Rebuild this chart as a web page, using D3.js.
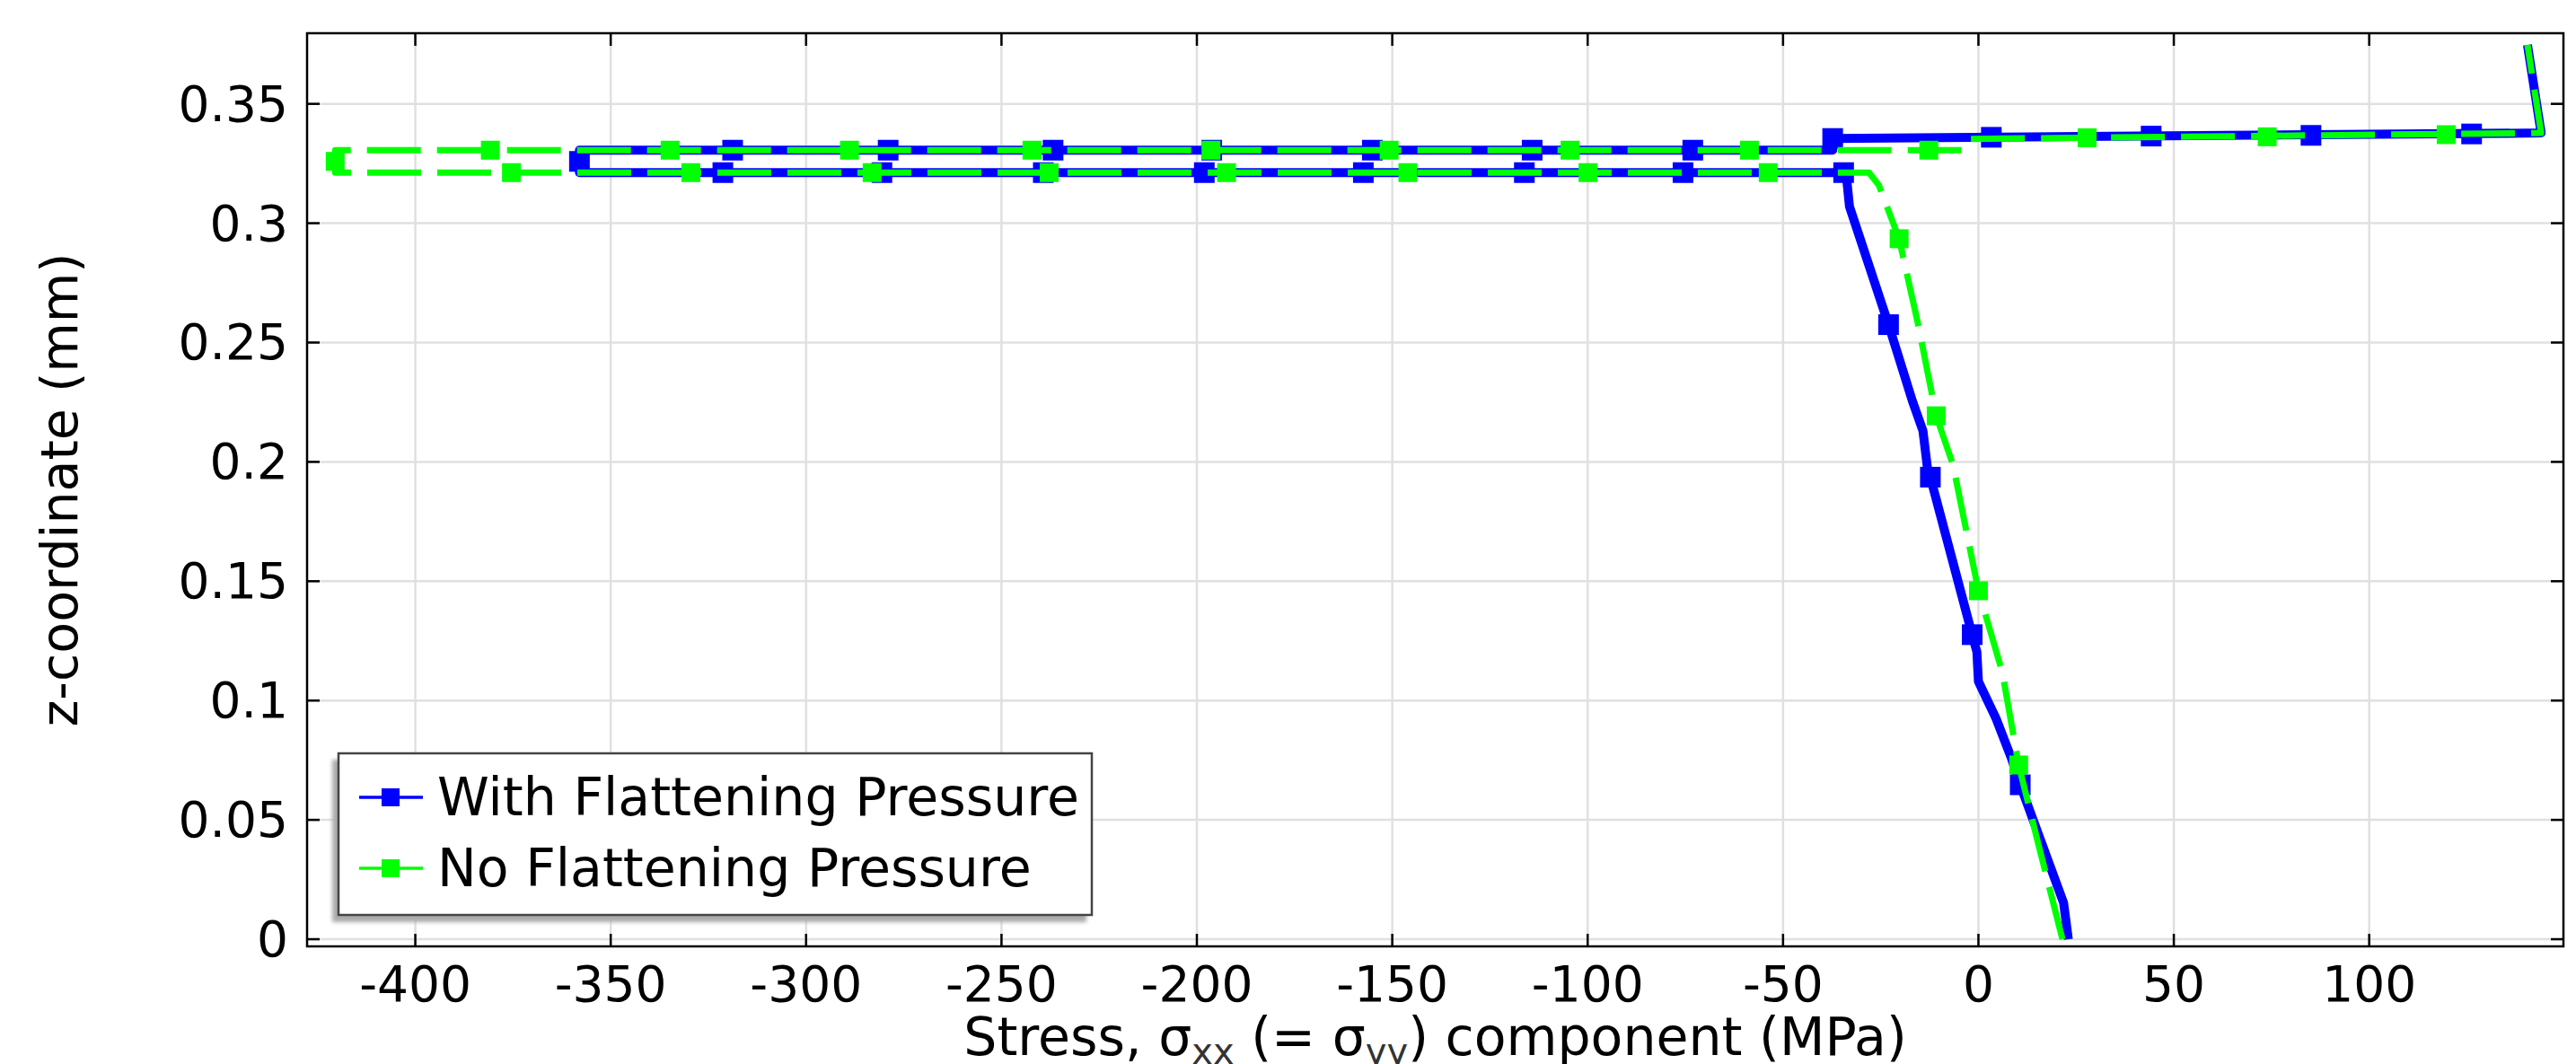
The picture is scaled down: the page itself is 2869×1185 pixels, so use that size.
<!DOCTYPE html>
<html>
<head>
<meta charset="utf-8">
<script src="https://cdn.jsdelivr.net/npm/d3@7"></script>
<style>
  body { margin: 0; background: #fff; }
  text { font-family: "DejaVu Sans", sans-serif; fill: #000; }
</style>
</head>
<body>
<svg id="chart" width="2869" height="1185"></svg>
<script>

// tick values
var xTicks = [-400, -350, -300, -250, -200, -150, -100, -50, 0, 50, 100],
    yTicks = [0, 0.05, 0.1, 0.15, 0.2, 0.25, 0.3, 0.35],
    yTickLabels = ["0", "0.05", "0.1", "0.15", "0.2", "0.25", "0.3", "0.35"];

var seriesNames = ["With Flattening Pressure", "No Flattening Pressure"];

// With flattening pressure: stress (MPa) vs z (mm)
var withStress = [23, 21.8, 10.7, 8.4, 4.5, 0, -0.4, -1.6, -12.3, -13, -14.2, -16.9, -23, -33, -33.7, -34.5,
                  -358, -358, -37.3, -37.3, 144, 140.5],
    withZ = [0, 0.0152, 0.0647, 0.076, 0.0925, 0.108, 0.1204, 0.1276, 0.1936, 0.1968, 0.213, 0.2255, 0.2575, 0.307, 0.3183, 0.3212,
             0.3212, 0.3306, 0.3306, 0.3355, 0.3378, 0.3747];

// markers on the blue curve
var withMarkStress = [10.7, -1.6, -12.3, -23, -34.5, -75.6, -116.2, -157.4, -198.1, -239.3, -280.6, -321.3,
                      -358, -318.8, -279, -236.8, -196.2, -155.1, -114.2, -73.1, -37.3, 3.3, 44.2, 85.1, 126.2],
    withMarkZ = [0.0647, 0.1276, 0.1936, 0.2575, 0.3212, 0.3212, 0.3212, 0.3212, 0.3212, 0.3212, 0.3212, 0.3212,
                 0.3259, 0.3306, 0.3306, 0.3306, 0.3306, 0.3306, 0.3306, 0.3306, 0.3355, 0.336, 0.3365, 0.3368, 0.3374];

// No flattening pressure
var noStress = [21.5, 15.3, 10.3, 6.1, 0, -6.5, -10.8, -15.3, -20.3, -25.5, -28,
                -420.5, -420.5, -4, -2.5, 144, 140.5],
    noZ = [0, 0.040, 0.073, 0.112, 0.146, 0.1987, 0.2193, 0.2566, 0.2935, 0.316, 0.3212,
           0.3212, 0.3306, 0.3306, 0.3353, 0.3378, 0.3747];

var noMarkStress = [10.3, 0, -10.8, -20.3, -53.8, -99.9, -146, -192.4, -237.8, -283.1, -329.5, -375.4,
                    -420.5, -380.8, -334.8, -288.9, -242.2, -196.4, -150.8, -104.5, -58.6, -12.7, 27.8, 73.9, 119.7],
    noMarkZ = [0.073, 0.146, 0.2193, 0.2935, 0.3212, 0.3212, 0.3212, 0.3212, 0.3212, 0.3212, 0.3212, 0.3212,
               0.3259, 0.3306, 0.3306, 0.3306, 0.3306, 0.3306, 0.3306, 0.3306, 0.3306, 0.3306, 0.3358, 0.3362, 0.3371];

var svg = d3.select("#chart"),
    pLeft = 342, pRight = 2855, pTop = 37, pBottom = 1054;

svg.append("rect").attr("width", 2869).attr("height", 1185).attr("fill", "#fff");

var x = d3.scaleLinear().domain([-427.7, 149.7]).range([pLeft, pRight]),
    y = d3.scaleLinear().domain([-0.003, 0.3796]).range([pBottom, pTop]);

function zip(a, b) { return a.map(function(v, i) { return [v, b[i]]; }); }

var line = d3.line().x(function(d) { return x(d[0]); }).y(function(d) { return y(d[1]); });

// grid
var grid = svg.append("g").attr("stroke", "#e0e0e0").attr("stroke-width", 2.5);
grid.selectAll(".gx").data(xTicks).enter().append("line")
    .attr("x1", function(d) { return x(d); }).attr("x2", function(d) { return x(d); })
    .attr("y1", pTop).attr("y2", pBottom);
grid.selectAll(".gy").data(yTicks).enter().append("line")
    .attr("y1", function(d) { return y(d); }).attr("y2", function(d) { return y(d); })
    .attr("x1", pLeft).attr("x2", pRight);

// curves
var plot = svg.append("g");
plot.append("path").datum(zip(withStress, withZ))
    .attr("d", line).attr("fill", "none").attr("stroke", "#0000ff")
    .attr("stroke-width", 10).attr("stroke-linejoin", "round");
plot.selectAll(".mw").data(zip(withMarkStress, withMarkZ)).enter().append("rect")
    .attr("x", function(d) { return x(d[0]) - 11.5; }).attr("y", function(d) { return y(d[1]) - 11.5; })
    .attr("width", 23).attr("height", 23).attr("fill", "#0000ff");

plot.append("path").datum(zip(noStress, noZ))
    .attr("d", line).attr("fill", "none").attr("stroke", "#00ff00")
    .attr("stroke-width", 7).attr("stroke-dasharray", "60,18").attr("stroke-linejoin", "round");
plot.selectAll(".mn").data(zip(noMarkStress, noMarkZ)).enter().append("rect")
    .attr("x", function(d) { return x(d[0]) - 10.5; }).attr("y", function(d) { return y(d[1]) - 10.5; })
    .attr("width", 21).attr("height", 21).attr("fill", "#00ff00");

// frame + inward ticks on all sides
var ax = svg.append("g").attr("stroke", "#000").attr("stroke-width", 2.5);
ax.append("rect").attr("x", pLeft).attr("y", pTop).attr("width", pRight - pLeft).attr("height", pBottom - pTop)
    .attr("fill", "none");
xTicks.forEach(function(t) {
  ax.append("line").attr("x1", x(t)).attr("x2", x(t)).attr("y1", pBottom).attr("y2", pBottom - 14);
  ax.append("line").attr("x1", x(t)).attr("x2", x(t)).attr("y1", pTop).attr("y2", pTop + 14);
});
yTicks.forEach(function(t) {
  ax.append("line").attr("y1", y(t)).attr("y2", y(t)).attr("x1", pLeft).attr("x2", pLeft + 14);
  ax.append("line").attr("y1", y(t)).attr("y2", y(t)).attr("x1", pRight).attr("x2", pRight - 14);
});

// tick labels
svg.selectAll(".xl").data(xTicks).enter().append("text")
    .attr("x", function(d) { return x(d); }).attr("y", 1115)
    .attr("text-anchor", "middle").style("font-size", "55px")
    .text(function(d) { return d; });
svg.selectAll(".yl").data(yTicks).enter().append("text")
    .attr("x", 321).attr("y", function(d) { return y(d) + 19; })
    .attr("text-anchor", "end").style("font-size", "55px")
    .text(function(d, i) { return yTickLabels[i]; });

// axis titles
var xt = svg.append("text").attr("x", (pLeft + pRight) / 2).attr("y", 1175)
    .attr("text-anchor", "middle").style("font-size", "58.5px");
xt.append("tspan").text("Stress, σ");
xt.append("tspan").attr("dy", 10).style("font-size", "40px").style("fill", "#333").text("xx");
xt.append("tspan").attr("dy", -10).text(" (= σ");
xt.append("tspan").attr("dy", 10).style("font-size", "40px").style("fill", "#333").text("yy");
xt.append("tspan").attr("dy", -10).text(") component (MPa)");

svg.append("text").attr("transform", "translate(86," + ((pTop + pBottom) / 2) + ") rotate(-90)")
    .attr("text-anchor", "middle").style("font-size", "57px").text("z-coordinate (mm)");

// legend
var defs = svg.append("defs");
defs.append("filter").attr("id", "blur").append("feGaussianBlur").attr("stdDeviation", 2);
var lg = svg.append("g");
lg.append("rect").attr("x", 370).attr("y", 846).attr("width", 840).attr("height", 181)
    .attr("fill", "#aaa").attr("filter", "url(#blur)");
lg.append("rect").attr("x", 377).attr("y", 839).attr("width", 839).attr("height", 180)
    .attr("fill", "#fff").attr("stroke", "#444").attr("stroke-width", 2.5);

var legColors = ["#0000ff", "#00ff00"], legY = [888, 967];
seriesNames.forEach(function(name, i) {
  lg.append("line").attr("x1", 400).attr("x2", 471).attr("y1", legY[i]).attr("y2", legY[i])
      .attr("stroke", legColors[i]).attr("stroke-width", 3.5);
  lg.append("rect").attr("x", 425).attr("y", legY[i] - 10).attr("width", 20).attr("height", 20)
      .attr("fill", legColors[i]);
  lg.append("text").attr("x", 487).attr("y", legY[i] + 20).style("font-size", "58.5px").text(name);
});

</script>
</body>
</html>
